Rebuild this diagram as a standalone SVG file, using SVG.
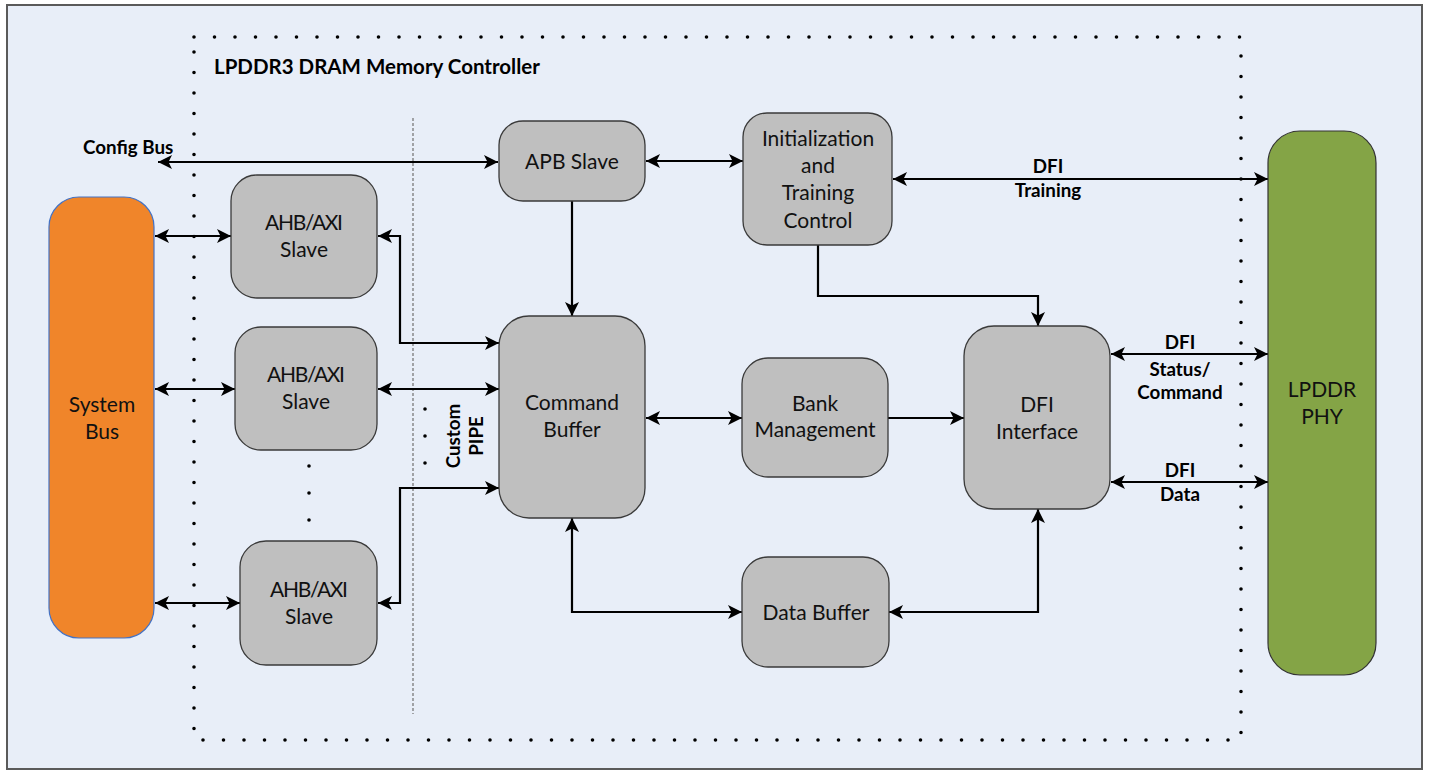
<svg xmlns="http://www.w3.org/2000/svg" width="1429" height="774" viewBox="0 0 1429 774">
  <style>
    .box { fill: #BFBFBF; stroke: #3A3A3A; stroke-width: 1.3; }
    .lbl { font-family: Lato, "Liberation Sans", sans-serif; font-size: 21px; fill: #111; text-anchor: middle; }
    .bold { font-family: Lato, "Liberation Sans", sans-serif; font-size: 18.8px; font-weight: bold; fill: #000; }
    .title { font-size: 20.5px; }
    .mid { text-anchor: middle; }
    .wire { fill: none; stroke: #000; stroke-width: 2.2; }
    .dot { fill: #000; }
  </style>
  <defs>
    <marker id="ah" markerUnits="userSpaceOnUse" markerWidth="16" markerHeight="16" refX="14" refY="7" orient="auto-start-reverse" viewBox="0 0 16 14">
      <path d="M0,0 L14,7 L0,14 L3.5,7 z" fill="#000"/>
    </marker>
  </defs>

  <!-- page background and frame -->
  <rect x="7" y="5" width="1415" height="764" fill="#E8EEF8" stroke="#5A5A5A" stroke-width="2"/>

  <!-- controller boundary (dotted) -->
  <rect x="194" y="37" width="1047" height="703" fill="none" stroke="#000" stroke-width="3.6" stroke-linecap="round" stroke-dasharray="0 20.5"/>
  <text class="bold title" x="214" y="74">LPDDR3 DRAM Memory Controller</text>

  <!-- custom pipe divider -->
  <line x1="413" y1="118" x2="413" y2="714" stroke="#707070" stroke-width="1.2" stroke-dasharray="3 2"/>

  <!-- connectors -->
  <g id="connectors">
    <line class="wire" x1="158" y1="162" x2="498" y2="162" marker-start="url(#ah)" marker-end="url(#ah)"/>
    <line class="wire" x1="646" y1="161" x2="743" y2="161" marker-start="url(#ah)" marker-end="url(#ah)"/>
    <line class="wire" x1="893" y1="179" x2="1268" y2="179" marker-start="url(#ah)" marker-end="url(#ah)"/>
    <line class="wire" x1="572" y1="201" x2="572" y2="316" marker-end="url(#ah)"/>
    <polyline class="wire" points="818,245 818,296 1038,296 1038,326" marker-end="url(#ah)"/>

    <line class="wire" x1="155" y1="236" x2="231" y2="236" marker-start="url(#ah)" marker-end="url(#ah)"/>
    <line class="wire" x1="155" y1="389" x2="235" y2="389" marker-start="url(#ah)" marker-end="url(#ah)"/>
    <line class="wire" x1="155" y1="603" x2="240" y2="603" marker-start="url(#ah)" marker-end="url(#ah)"/>

    <polyline class="wire" points="378,236 400,236 400,343 499,343" marker-start="url(#ah)" marker-end="url(#ah)"/>
    <line class="wire" x1="378" y1="389" x2="499" y2="389" marker-start="url(#ah)" marker-end="url(#ah)"/>
    <polyline class="wire" points="378,603 400,603 400,488 499,488" marker-start="url(#ah)" marker-end="url(#ah)"/>

    <line class="wire" x1="646" y1="418" x2="742" y2="418" marker-start="url(#ah)" marker-end="url(#ah)"/>
    <line class="wire" x1="888" y1="418" x2="964" y2="418" marker-end="url(#ah)"/>
    <polyline class="wire" points="572,518 572,612 742,612" marker-start="url(#ah)" marker-end="url(#ah)"/>
    <polyline class="wire" points="889,612 1038,612 1038,509" marker-start="url(#ah)" marker-end="url(#ah)"/>

    <line class="wire" x1="1111" y1="354" x2="1268" y2="354" marker-start="url(#ah)" marker-end="url(#ah)"/>
    <line class="wire" x1="1111" y1="482" x2="1268" y2="482" marker-start="url(#ah)" marker-end="url(#ah)"/>
  </g>

  <!-- connector labels -->
  <text class="bold" x="83" y="154">Config Bus</text>
  <text class="bold mid" x="1048" y="173">DFI</text>
  <text class="bold mid" x="1048" y="197">Training</text>
  <text class="bold mid" x="1180" y="349">DFI</text>
  <text class="bold mid" x="1180" y="376">Status/</text>
  <text class="bold mid" x="1180" y="399">Command</text>
  <text class="bold mid" x="1180" y="477">DFI</text>
  <text class="bold mid" x="1180" y="501">Data</text>
  <text class="bold mid" transform="translate(460,436) rotate(-90)">Custom</text>
  <text class="bold mid" transform="translate(483,436) rotate(-90)">PIPE</text>

  <!-- ellipsis marks -->
  <circle class="dot" cx="425" cy="409" r="1.8"/>
  <circle class="dot" cx="425" cy="436" r="1.8"/>
  <circle class="dot" cx="425" cy="463" r="1.8"/>
  <circle class="dot" cx="309" cy="466" r="1.8"/>
  <circle class="dot" cx="309" cy="493" r="1.8"/>
  <circle class="dot" cx="309" cy="520" r="1.8"/>

  <g id="system-bus">
    <rect x="49" y="197" width="105" height="441" rx="30" fill="#F0852A" stroke="#4472C4" stroke-width="1.2"/>
    <text class="lbl" x="102" y="412">System</text>
    <text class="lbl" x="102" y="439">Bus</text>
  </g>

  <g id="lpddr-phy">
    <rect x="1268" y="131" width="108" height="544" rx="32" fill="#84A446" stroke="#333" stroke-width="1.2"/>
    <text class="lbl" x="1322" y="397">LPDDR</text>
    <text class="lbl" x="1322" y="424">PHY</text>
  </g>

  <g id="ahb-slave-1">
    <rect class="box" x="231" y="175" width="146" height="123" rx="26"/>
    <text class="lbl" x="304" y="230" textLength="78">AHB/AXI</text>
    <text class="lbl" x="304" y="257">Slave</text>
  </g>
  <g id="ahb-slave-2">
    <rect class="box" x="235" y="327" width="142" height="123" rx="26"/>
    <text class="lbl" x="306" y="382" textLength="78">AHB/AXI</text>
    <text class="lbl" x="306" y="409">Slave</text>
  </g>
  <g id="ahb-slave-3">
    <rect class="box" x="240" y="541" width="137" height="124" rx="26"/>
    <text class="lbl" x="309" y="597" textLength="78">AHB/AXI</text>
    <text class="lbl" x="309" y="624">Slave</text>
  </g>

  <g id="apb-slave">
    <rect class="box" x="499" y="121" width="146" height="80" rx="24"/>
    <text class="lbl" x="572" y="169">APB Slave</text>
  </g>

  <g id="init-training">
    <rect class="box" x="743" y="113" width="149" height="132" rx="24"/>
    <text class="lbl" x="818" y="146">Initialization</text>
    <text class="lbl" x="818" y="173">and</text>
    <text class="lbl" x="818" y="200">Training</text>
    <text class="lbl" x="818" y="228">Control</text>
  </g>

  <g id="command-buffer">
    <rect class="box" x="499" y="316" width="146" height="202" rx="30"/>
    <text class="lbl" x="572" y="410">Command</text>
    <text class="lbl" x="572" y="437">Buffer</text>
  </g>

  <g id="bank-management">
    <rect class="box" x="742" y="358" width="146" height="119" rx="26"/>
    <text class="lbl" x="815" y="411">Bank</text>
    <text class="lbl" x="815" y="437">Management</text>
  </g>

  <g id="dfi-interface">
    <rect class="box" x="964" y="326" width="146" height="183" rx="30"/>
    <text class="lbl" x="1037" y="412">DFI</text>
    <text class="lbl" x="1037" y="439">Interface</text>
  </g>

  <g id="data-buffer">
    <rect class="box" x="742" y="557" width="147" height="110" rx="26"/>
    <text class="lbl" x="816" y="620">Data Buffer</text>
  </g>
</svg>
